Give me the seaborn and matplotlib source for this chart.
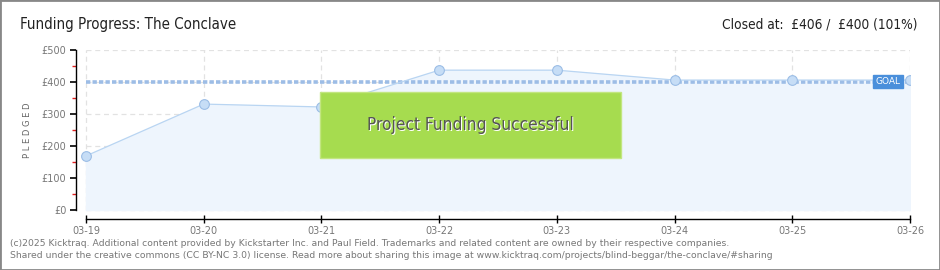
import matplotlib
matplotlib.use("Agg")
import matplotlib.pyplot as plt
import seaborn as sns
import pandas as pd
from matplotlib.patches import Rectangle
from matplotlib import font_manager

dates = ["03-19", "03-20", "03-21", "03-22", "03-23", "03-24", "03-25", "03-26"]
pledged = [169, 331, 322, 437, 437, 406, 406, 406]
goal = 400
yticks = [0, 100, 200, 300, 400, 500]
ytick_labels = ["£0", "£100", "£200", "£300", "£400", "£500"]

sns.set_theme(style="white")
plt.rcParams['font.family'] = ['DejaVu Sans']

names = {f.name for f in font_manager.fontManager.ttflist}
cond = [f for f in font_manager.fontManager.ttflist
        if f.name == "DejaVu Sans" and f.stretch == "condensed" and f.weight in (400, "normal")]
if cond:
    TFONT = dict(family="DejaVu Sans", stretch="condensed")
    tsize, rsize, bsize = 11, 11, 11.5
else:
    TFONT = dict(family="Liberation Sans" if "Liberation Sans" in names else "DejaVu Sans")
    tsize, rsize, bsize = 11, 10.5, 12
tsize *= 0.98
rsize *= 0.89
bsize *= 1.08

df = pd.DataFrame({"idx": range(len(dates)), "pledged": pledged})

W, H = 940, 270
fig = plt.figure(figsize=(W / 100, H / 100), dpi=100)
fig.patch.set_facecolor("white")

ax = fig.add_axes([76 / W, (H - 219) / H, (910 - 76) / W, (219 - 50) / H])
n = len(dates) - 1
px_per_day = (910 - 86) / n
ax.set_xlim(-10 / px_per_day, n)
ax.set_ylim(-9 / 0.32, 500)

for i in range(len(dates)):
    ax.plot([i, i], [0, 500], color="#e2e2e2", lw=0.9, ls=(0, (4, 3)), zorder=0)
for y in yticks:
    ax.plot([0, n], [y, y], color="#e2e2e2", lw=0.9, ls=(0, (4, 3)), zorder=0)

ax.fill_between(df["idx"], df["pledged"], 0, color="#eef5fd", zorder=1)
sns.lineplot(data=df, x="idx", y="pledged", ax=ax, color="#b9d5f2", lw=0.9,
             marker="o", markersize=7, markerfacecolor="#c6ddf6",
             markeredgecolor="#9bbde6", markeredgewidth=0.8, zorder=4)

ax.plot([0, n], [goal, goal], color="#9dbde6", lw=2.6, ls=(0, (1.2, 0.6)), zorder=3)

ax.text(n - 0.08, goal + 1, "GOAL", ha="right", va="center", fontsize=6.5,
        color="white", zorder=6,
        bbox=dict(boxstyle="square,pad=0.25", fc="#4a8fdb", ec="#4a8fdb"))

x0 = (320 - 86) / px_per_day
x1 = (621 - 86) / px_per_day
y_top = (210 - 92) / 0.32
y_bot = (210 - 158) / 0.32
ax.add_patch(Rectangle((x0, y_bot), x1 - x0, y_top - y_bot, fc="#a6dc4f",
                       ec="#c2e680", lw=1, zorder=5))
xc = (x0 + x1) / 2
yc = (y_top + y_bot) / 2
ax.text(xc + 0.01, yc - 2, "Project Funding Successful", ha="center", va="center",
        fontsize=bsize, color="white", zorder=6, **TFONT)
ax.text(xc, yc, "Project Funding Successful", ha="center", va="center",
        fontsize=bsize, color="#555555", zorder=7, **TFONT)

for s in ["top", "right"]:
    ax.spines[s].set_visible(False)
ax.spines["left"].set_color("black")
ax.spines["bottom"].set_color("black")
ax.spines["left"].set_linewidth(1)
ax.spines["bottom"].set_linewidth(1)
ax.spines["left"].set_bounds(0, 500)
ax.spines["bottom"].set_bounds(0, n)

ax.set_xticks(range(len(dates)))
ax.set_xticklabels(dates)
ax.set_yticks(yticks)
ax.set_yticklabels(ytick_labels)
ax.set_yticks([50, 150, 250, 350, 450], minor=True)
ax.tick_params(axis="x", which="major", direction="inout", length=6, width=1,
               color="black", labelsize=7, labelcolor="#777777", pad=2, bottom=True)
ax.tick_params(axis="y", which="major", direction="out", length=4, width=1.2,
               color="black", labelsize=7, labelcolor="#777777", pad=3, left=True)
ax.tick_params(axis="y", which="minor", direction="out", length=3, width=1,
               color="#e02020", left=True)
ax.set_xlabel("")
ax.set_ylabel("P L E D G E D", fontsize=6, color="#666666")
ax.yaxis.set_label_coords(-44 / (910 - 76), (210 - 130) / 169 + 9 / 169)
ax.set_facecolor("none")

fig.text(20 / W, 1 - 24 / H, "Funding Progress: The Conclave", ha="left", va="center",
         fontsize=tsize, color="#222222", **TFONT)
fig.text(918 / W, 1 - 24 / H, "Closed at:  £406 /  £400 (101%)", ha="right", va="center",
         fontsize=rsize, color="#222222", **TFONT)

fig.text(10 / W, 1 - 243 / H,
         "(c)2025 Kicktraq. Additional content provided by Kickstarter Inc. and Paul Field. Trademarks and related content are owned by their respective companies.",
         ha="left", va="center", fontsize=6.65, color="#777777")
fig.text(10 / W, 1 - 256 / H,
         "Shared under the creative commons (CC BY-NC 3.0) license. Read more about sharing this image at www.kicktraq.com/projects/blind-beggar/the-conclave/#sharing",
         ha="left", va="center", fontsize=6.65, color="#777777")

fig.add_artist(Rectangle((0, 0), 1, 1, transform=fig.transFigure, fill=False,
                         ec="#888888", lw=2))

fig.savefig("out.png", dpi=100)
